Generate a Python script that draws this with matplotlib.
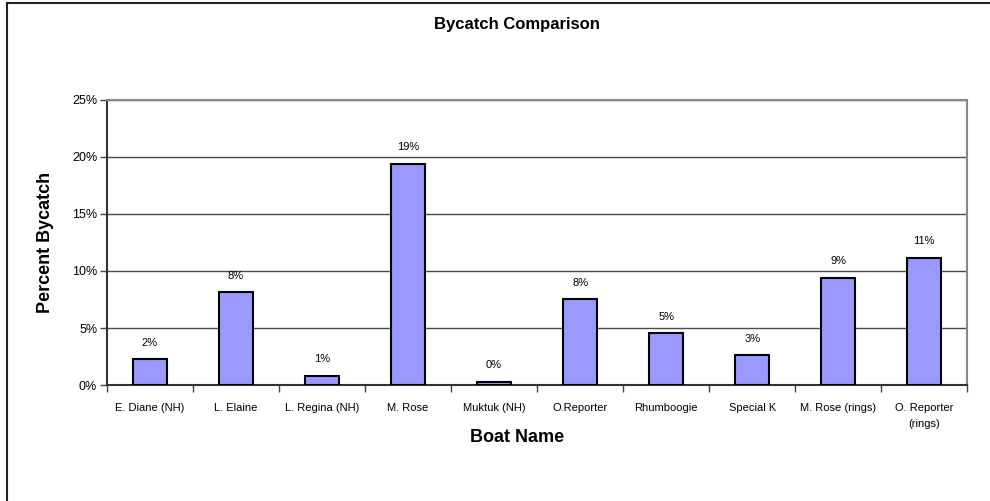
import matplotlib.pyplot as plt
from matplotlib.lines import Line2D
import numpy as np

plt.rcParams["font.family"] = ["Liberation Sans", "DejaVu Sans"]

# Percent of catch that was bycatch, per boat
boats = ["E. Diane (NH)", "L. Elaine", "L. Regina (NH)", "M. Rose", "Muktuk (NH)",
         "O.Reporter", "Rhumboogie", "Special K", "M. Rose (rings)", "O. Reporter\n(rings)"]
bycatch_pct = [2.27, 8.16, 0.81, 19.4, 0.29, 7.55, 4.52, 2.6, 9.41, 11.16]
y_ticks = [0, 5, 10, 15, 20, 25]

fig = plt.figure(figsize=(9.9, 5.01), dpi=100)
ax = fig.add_axes([0.108, 0.2315, 0.869, 0.569])

x = np.arange(len(boats))
ax.bar(x, bycatch_pct, width=0.4, color="#9999FF", edgecolor="black",
       linewidth=1.5, zorder=3)
for xi, v in zip(x, bycatch_pct):
    ax.text(xi, v + 1.0, f"{v:.0f}%", ha="center", va="bottom", fontsize=8)

ax.set_xlim(-0.5, len(boats) - 0.5)
ax.set_ylim(0, 25)
ax.set_yticks(y_ticks)
ax.set_yticklabels([f"{t}%" for t in y_ticks], fontsize=9)
ax.yaxis.grid(True, color="#4a4a4a", linewidth=1.0, zorder=0)

# category labels centered, tick marks on category boundaries
ax.set_xticks(x)
ax.set_xticklabels(boats, fontsize=8, linespacing=1.7)
ax.tick_params(axis="x", length=0, pad=13)
ax.set_xticks(np.arange(len(boats) + 1) - 0.5, minor=True)
ax.tick_params(axis="x", which="minor", length=5, width=1, color="#444444")
ax.tick_params(axis="y", length=5, width=1, color="#444444", pad=2)

for side in ["top", "right"]:
    ax.spines[side].set_color("#888888")
    ax.spines[side].set_linewidth(1.5)
for side in ["left", "bottom"]:
    ax.spines[side].set_color("#333333")
    ax.spines[side].set_linewidth(1.5)

ax.set_ylabel("Percent Bycatch", fontsize=13, fontweight="bold", labelpad=13)
fig.text(0.522, 0.126, "Boat Name", ha="center", va="center",
         fontsize=13, fontweight="bold")
fig.text(0.522, 0.952, "Bycatch Comparison", ha="center", va="center",
         fontsize=12, fontweight="bold")

# chart-area frame (runs off the right and bottom edges)
fig.add_artist(Line2D([0.007, 1.0], [0.994, 0.994], transform=fig.transFigure,
                      color="#222222", linewidth=1.5))
fig.add_artist(Line2D([0.007, 0.007], [0.0, 0.994], transform=fig.transFigure,
                      color="#222222", linewidth=1.5))

fig.savefig("out.png", dpi=100)
